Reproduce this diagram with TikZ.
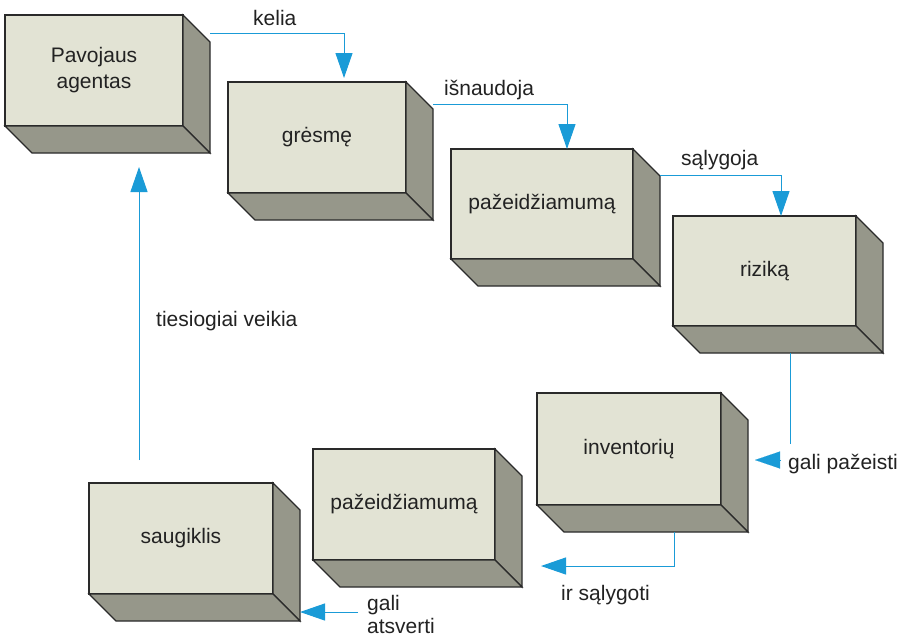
\documentclass[tikz,border=0pt]{standalone}
\usepackage{fontspec}
\setmainfont{Liberation Sans}
\usetikzlibrary{arrows.meta}
\definecolor{frontcol}{HTML}{E2E3D4}
\definecolor{facecol}{HTML}{96978A}
\definecolor{edgecol}{HTML}{2A2A2A}
\definecolor{bluecol}{HTML}{1A9BD7}
\definecolor{txtcol}{HTML}{222222}
\tikzset{
  front/.style={draw=edgecol, fill=frontcol, line width=1.1pt, inner sep=0pt, outer sep=0pt,
    text=txtcol, align=center, font=\fontsize{21}{26}\selectfont},
  face/.style={draw=edgecol, fill=facecol, line width=1.1pt, line join=miter},
  conn/.style={draw=bluecol, line width=1pt},
  tip/.style={-{Triangle[length=25pt,width=17pt]}, bluecol},
  lab/.style={inner sep=0pt, text=txtcol, font=\fontsize{21}{26}\selectfont, anchor=base west}
}
\newcommand\cubebox[5]{%
  \node[front, minimum width=#4, minimum height=#5] (#1) at (#2) {#3};
  \draw[face] (#1.north east) -- ([shift={(27,27)}]#1.north east) -- ([shift={(27,27)}]#1.south east) -- (#1.south east) -- cycle;
  \draw[face] (#1.south west) -- (#1.south east) -- ([shift={(27,27)}]#1.south east) -- ([shift={(27,27)}]#1.south west) -- cycle;
}
\begin{document}
\begin{tikzpicture}[x=1pt,y=-1pt]
\useasboundingbox (0,0) rectangle (909,637);
\fill[white] (0,0) rectangle (909,637);

\cubebox{b1}{94,70.5}{Pavojaus\\agentas}{178}{111}
\cubebox{b2}{317,137.5}{grėsmę}{178}{111}
\cubebox{b3}{542,204}{pažeidžiamumą}{182}{110}
\cubebox{b4}{764.5,271}{riziką}{183}{110}
\cubebox{b5}{629,449}{inventorių}{184}{112}
\cubebox{b6}{404,504.5}{pažeidžiamumą}{182}{111}
\cubebox{b7}{181,538.5}{saugiklis}{184}{111}

% connectors
\coordinate (s1) at ([shift={(27,18)}]b1.north east);
\draw[conn, tip, shorten >=4pt] (s1) -| ([shift={(27,0)}]b2.north);
\coordinate (s2) at ([shift={(27,22)}]b2.north east);
\draw[conn, tip] (s2) -| ([shift={(25,0)}]b3.north);
\coordinate (s3) at ([shift={(27,26)}]b3.north east);
\draw[conn, tip] (s3) -| ([shift={(16.5,0)}]b4.north);

\coordinate (s4) at ([shift={(25.5,27)}]b4.south);
\coordinate (e4) at ([shift={(25.5,118)}]b4.south);
\draw[conn] (s4) -- (e4);
\coordinate (h4a) at ([shift={(60,11)}]b5.east);
\coordinate (h4b) at ([shift={(34,11)}]b5.east);
\draw[tip, line width=0.1pt] (h4a) -- (h4b);

\coordinate (s5) at ([shift={(45,27)}]b5.south);
\coordinate (e5) at ([shift={(-88,61)}]b5.south);
\draw[conn, tip] (s5) |- (e5);

\coordinate (s6) at ([shift={(45,52)}]b6.south west);
\draw[conn, tip] (s6) -- ([shift={(27,18)}]b7.south east);

\coordinate (s7) at ([shift={(-42,-23)}]b7.north);
\draw[conn, tip] (s7) -- ([shift={(134,41)}]b1.south west);

% labels
\node[lab] (l1) at (253,25) {kelia};
\node[lab] (l2) at (444,95) {išnaudoja};
\node[lab] (l3) at (681,165) {sąlygoja};
\node[lab] (l4) at (788,469) {gali pažeisti};
\node[lab] (l5) at (561,600) {ir sąlygoti};
\node[lab] (l6) at (367,610) {gali};
\node[lab] (l7) at (367,633) {atsverti};
\node[lab] (l8) at (156,326) {tiesiogiai veikia};
\end{tikzpicture}
\end{document}
